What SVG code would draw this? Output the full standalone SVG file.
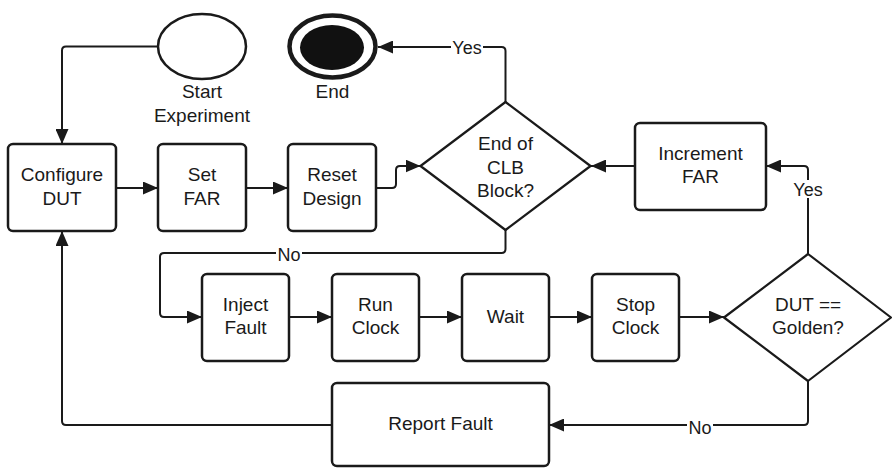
<svg xmlns="http://www.w3.org/2000/svg" width="892" height="468" viewBox="0 0 892 468">
  <style>
    .box { fill: #ffffff; stroke: #1a1a1a; stroke-width: 2.5; }
    .dec { fill: #ffffff; stroke: #1a1a1a; stroke-width: 2.2; stroke-linejoin: round; }
    .txt { font-family: "Liberation Sans", Arial, sans-serif; font-size: 19px; fill: #1a1a1a; text-anchor: middle; }
    .lbl { font-family: "Liberation Sans", Arial, sans-serif; font-size: 18px; fill: #1a1a1a; text-anchor: middle; }
    .wire { fill: none; stroke: #1a1a1a; stroke-width: 2; }
    .arrow { marker-end: url(#head); }
    .bg { fill: #ffffff; }
  </style>
  <defs>
    <marker id="head" viewBox="0 0 15 13" refX="15" refY="6.5" markerWidth="15" markerHeight="13" markerUnits="userSpaceOnUse" orient="auto">
      <path d="M0,0 L15,6.5 L0,13 Z" fill="#1a1a1a"/>
    </marker>
  </defs>
  <rect width="892" height="468" fill="#ffffff"/>

  <!-- connectors -->
  <g id="connectors">
    <path class="wire arrow" d="M158,46.5 H66 Q62,46.5 62,50.5 V144"/>
    <path class="wire arrow" d="M116,188 H158"/>
    <path class="wire arrow" d="M246,188 H288"/>
    <path class="wire arrow" d="M376,188 H392 Q396,188 396,184 V170 Q396,166 400,166 H420.5"/>
    <path class="wire arrow" d="M505.5,102 V51 Q505.5,47 501.5,47 H378"/>
    <path class="wire arrow" d="M635,166 H591"/>
    <path class="wire arrow" d="M808,254 V170 Q808,166 804,166 H766"/>
    <path class="wire arrow" d="M505.5,230 V249 Q505.5,253 501.5,253 H164 Q160,253 160,257 V313 Q160,317 164,317 H202"/>
    <path class="wire arrow" d="M289,317 H332"/>
    <path class="wire arrow" d="M419,317 H462"/>
    <path class="wire arrow" d="M549,317 H592"/>
    <path class="wire arrow" d="M679,317 H724"/>
    <path class="wire arrow" d="M808,381 V421 Q808,425 804,425 H549"/>
    <path class="wire arrow" d="M332,425 H66 Q62,425 62,421 V231"/>
    <!-- branch labels -->
    <rect class="bg" x="451" y="38" width="32" height="18"/>
    <text class="lbl" x="467" y="54">Yes</text>
    <rect class="bg" x="792" y="180" width="32" height="18"/>
    <text class="lbl" x="808" y="196">Yes</text>
    <rect class="bg" x="276" y="244" width="26" height="18"/>
    <text class="lbl" x="289" y="261">No</text>
    <rect class="bg" x="687" y="416" width="26" height="18"/>
    <text class="lbl" x="700" y="433.5">No</text>
  </g>

  <g id="start">
    <ellipse class="box" cx="202" cy="46.5" rx="44" ry="32.5" stroke-width="2"/>
    <text class="txt" x="202" y="97.5">Start</text>
    <text class="txt" x="202" y="121.5">Experiment</text>
  </g>

  <g id="end">
    <ellipse cx="332.5" cy="46.5" rx="43" ry="31" fill="#ffffff" stroke="#1a1a1a" stroke-width="4.5"/>
    <ellipse cx="332" cy="47.5" rx="32" ry="22.5" fill="#111111"/>
    <text class="txt" x="332.5" y="97.5">End</text>
  </g>

  <g id="configure-dut">
    <rect class="box" x="8" y="144" width="108" height="87" rx="5"/>
    <text class="txt" x="62" y="181">Configure</text>
    <text class="txt" x="62" y="204.5">DUT</text>
  </g>

  <g id="set-far">
    <rect class="box" x="158" y="144" width="88" height="87" rx="5"/>
    <text class="txt" x="202" y="181">Set</text>
    <text class="txt" x="202" y="204.5">FAR</text>
  </g>

  <g id="reset-design">
    <rect class="box" x="288" y="144" width="88" height="87" rx="5"/>
    <text class="txt" x="332" y="181">Reset</text>
    <text class="txt" x="332" y="204.5">Design</text>
  </g>

  <g id="end-of-clb">
    <path class="dec" d="M505.5,102 L590.5,166 L505.5,230 L420.5,166 Z"/>
    <text class="txt" x="505.5" y="150">End of</text>
    <text class="txt" x="505.5" y="173.5">CLB</text>
    <text class="txt" x="505.5" y="197">Block?</text>
  </g>

  <g id="increment-far">
    <rect class="box" x="635" y="123" width="131" height="87" rx="5"/>
    <text class="txt" x="700.5" y="159.5">Increment</text>
    <text class="txt" x="700.5" y="182.5">FAR</text>
  </g>

  <g id="inject-fault">
    <rect class="box" x="202" y="274" width="87" height="87" rx="5"/>
    <text class="txt" x="245.5" y="310.7">Inject</text>
    <text class="txt" x="245.5" y="334">Fault</text>
  </g>

  <g id="run-clock">
    <rect class="box" x="332" y="274" width="87" height="87" rx="5"/>
    <text class="txt" x="375.5" y="310.7">Run</text>
    <text class="txt" x="375.5" y="334">Clock</text>
  </g>

  <g id="wait">
    <rect class="box" x="462" y="274" width="87" height="87" rx="5"/>
    <text class="txt" x="505.5" y="322.5">Wait</text>
  </g>

  <g id="stop-clock">
    <rect class="box" x="592" y="274" width="87" height="87" rx="5"/>
    <text class="txt" x="635.5" y="310.7">Stop</text>
    <text class="txt" x="635.5" y="334">Clock</text>
  </g>

  <g id="dut-golden">
    <path class="dec" d="M808,254 L891,317.5 L808,381 L724,317.5 Z"/>
    <text class="txt" x="808" y="310.7">DUT ==</text>
    <text class="txt" x="808" y="334">Golden?</text>
  </g>

  <g id="report-fault">
    <rect class="box" x="332" y="383" width="217" height="83" rx="5"/>
    <text class="txt" x="440.5" y="430">Report Fault</text>
  </g>
</svg>
